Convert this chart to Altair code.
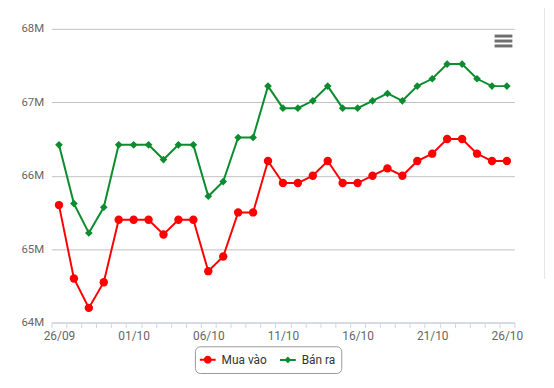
import altair as alt
import pandas as pd

dates = ["26/09", "27/09", "28/09", "29/09", "30/09", "01/10", "02/10", "03/10",
         "04/10", "05/10", "06/10", "07/10", "08/10", "09/10", "10/10", "11/10",
         "12/10", "13/10", "14/10", "15/10", "16/10", "17/10", "18/10", "19/10",
         "20/10", "21/10", "22/10", "23/10", "24/10", "25/10", "26/10"]
mua_vao = [65.6, 64.6, 64.2, 64.55, 65.4, 65.4, 65.4, 65.2, 65.4, 65.4,
           64.7, 64.9, 65.5, 65.5, 66.2, 65.9, 65.9, 66.0, 66.2, 65.9,
           65.9, 66.0, 66.1, 66.0, 66.2, 66.3, 66.5, 66.5, 66.3, 66.2, 66.2]
ban_ra = [66.42, 65.62, 65.22, 65.57, 66.42, 66.42, 66.42, 66.22, 66.42, 66.42,
          65.72, 65.92, 66.52, 66.52, 67.22, 66.92, 66.92, 67.02, 67.22, 66.92,
          66.92, 67.02, 67.12, 67.02, 67.22, 67.32, 67.52, 67.52, 67.32, 67.22, 67.22]
tick_labels = ["26/09", "01/10", "06/10", "11/10", "16/10", "21/10", "26/10"]
y_ticks = [64, 65, 66, 67, 68]
series_names = ["Mua vào", "Bán ra"]
series_colors = ["#ff0000", "#0b8c2e"]
series_shapes = ["circle", "diamond"]
series_sizes = [72, 60]

rows = []
for name, vals in zip(series_names, [mua_vao, ban_ra]):
    for d, v in zip(dates, vals):
        rows.append({"date": d, "series": name, "value": v})
df = pd.DataFrame(rows)

FONT = "Roboto"
label_list = "[" + ",".join("'" + t + "'" for t in tick_labels) + "]"

x_enc = alt.X(
    "date:O",
    sort=dates,
    bandPosition=0.5,
    scale=alt.Scale(type="band", paddingInner=0, paddingOuter=0),
    axis=alt.Axis(
        title=None, labelAngle=0, labelOverlap=False,
        labelExpr="indexof(" + label_list + ", datum.label) >= 0 ? datum.label : ''",
        tickBand="extent", tickSize=5, tickColor="#ccd6eb", domainColor="#ccd6eb",
        labelColor="#666666", labelFont=FONT, labelFontSize=12, labelPadding=3,
        grid=False, zindex=1,
    ),
)
y_enc = alt.Y(
    "value:Q",
    scale=alt.Scale(domain=[64, 68], nice=False, zero=False),
    axis=alt.Axis(
        title=None, values=y_ticks, labelExpr="datum.value + 'M'",
        grid=True, gridColor="#c0c0c0", gridWidth=1, domain=False, ticks=False,
        labelPadding=8, labelColor="#666666", labelFont=FONT, labelFontSize=11.5,
    ),
)
color_scale = alt.Scale(domain=series_names, range=series_colors)

base = alt.Chart(df)

layers = []
for name, col in zip(series_names, series_colors):
    layers.append(
        base.transform_filter(alt.datum.series == name)
        .mark_line(strokeWidth=2, color=col)
        .encode(x=x_enc, y=y_enc)
    )
for name, col, shp, sz in zip(series_names, series_colors, series_shapes, series_sizes):
    layers.append(
        base.transform_filter(alt.datum.series == name)
        .mark_point(filled=True, shape=shp, size=sz, opacity=1, color=col)
        .encode(x=x_enc, y=y_enc)
    )

circle_path = ("M-1.333,-0.167H1.333V0.167H-1.333Z "
               "M0.667,0A0.667,0.667 0 1,1 -0.667,0A0.667,0.667 0 1,1 0.667,0Z")
diamond_path = ("M-1.333,-0.167H1.333V0.167H-1.333Z "
                "M0,-0.583L0.583,0L0,0.583L-0.583,0Z")

legend_def = alt.Legend(
    title=None, orient="none", legendX=145, legendY=321, direction="horizontal",
    symbolSize=144, labelFont=FONT, labelFontSize=12, labelColor="#333333",
    labelOffset=7, columnPadding=10, padding=6, strokeColor="#999999",
    cornerRadius=5, fillColor="#ffffff", symbolOpacity=1,
)
legend_layer = base.transform_filter("false").mark_point(filled=True, opacity=1).encode(
    color=alt.Color("series:N", scale=color_scale, legend=legend_def),
    shape=alt.Shape("series:N",
                    scale=alt.Scale(domain=series_names, range=[circle_path, diamond_path]),
                    legend=legend_def),
)
layers.append(legend_layer)

one = pd.DataFrame({"k": [0]})
for yy in (7.3, 12.3, 17.3):
    layers.append(
        alt.Chart(one).mark_rule(stroke="#6e6e6e", strokeWidth=3).encode(
            x=alt.value(448), x2=alt.value(466), y=alt.value(yy))
    )
layers.append(alt.Chart(one).mark_rule(stroke="#e6e6e6", strokeWidth=1).encode(
    x=alt.value(498.5), y=alt.value(-27), y2=alt.value(252)))
layers.append(alt.Chart(one).mark_rule(stroke="#e6e6e6", strokeWidth=1).encode(
    x=alt.value(498.5), x2=alt.value(504), y=alt.value(252)))

chart = alt.layer(*layers).properties(
    width=468, height=297,
    autosize=alt.AutoSizeParams(type="none"),
    padding={"left": 44, "top": 19, "right": 32, "bottom": 56},
).configure_view(strokeWidth=0)

chart.save("out.html", embed_options={"renderer": "svg", "actions": False})
